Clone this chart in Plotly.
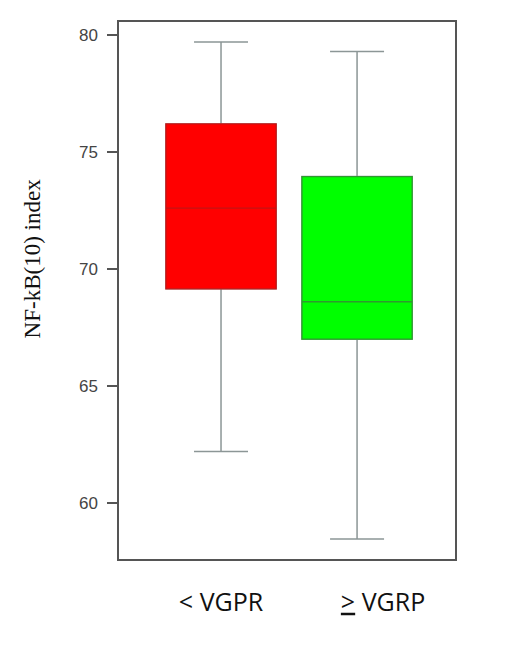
import plotly.graph_objects as go

# group labels and box statistics
groups = ["< VGPR", ">= VGRP"]
fills = ["#ff0000", "#00ff00"]
edges = ["#c41414", "#2f9a2f"]
q1 = [69.15, 67.0]
median = [72.6, 68.6]
q3 = [76.2, 73.95]
lower = [62.2, 58.45]
upper = [79.7, 79.3]

tick_vals = [60, 65, 70, 75, 80]
x_labels = ["< VGPR", "&nbsp;&nbsp;&nbsp;&nbsp;&nbsp;&nbsp;&nbsp;&nbsp;<u>></u> VGRP"]
y_title = "&nbsp;" * 11 + "NF-kB(10) index"

fig = go.Figure()

for i in range(len(groups)):
    # whiskers (gray) with the full fences
    fig.add_trace(
        go.Box(
            x=[i],
            q1=[q1[i]],
            median=[median[i]],
            q3=[q3[i]],
            lowerfence=[lower[i]],
            upperfence=[upper[i]],
            width=0.81,
            whiskerwidth=0.49,
            fillcolor=fills[i],
            line={"color": "#8c9696", "width": 1.5},
            hoverinfo="skip",
            showlegend=False,
        )
    )
    # coloured box outline + median on top
    fig.add_trace(
        go.Box(
            x=[i],
            q1=[q1[i]],
            median=[median[i]],
            q3=[q3[i]],
            lowerfence=[q1[i]],
            upperfence=[q3[i]],
            width=0.81,
            whiskerwidth=0,
            fillcolor=fills[i],
            line={"color": edges[i], "width": 1.3},
            showlegend=False,
        )
    )

# page body adds an 8px offset, margins compensate for it
fig.update_layout(
    width=520,
    height=659,
    margin={"l": 111, "r": 73, "t": 14, "b": 108},
    paper_bgcolor="white",
    plot_bgcolor="white",
    boxmode="overlay",
    font={"family": "Liberation Sans, Arial, sans-serif", "color": "#444"},
)

fig.update_xaxes(
    range=[-0.75, 1.72],
    tickvals=[0, 1],
    ticktext=x_labels,
    ticks="",
    ticklabelstandoff=20,
    tickfont={"size": 25, "color": "#111", "family": "Open Sans, Liberation Sans, sans-serif"},
    showgrid=False,
    zeroline=False,
    showline=True,
    linecolor="#555",
    linewidth=1.5,
    mirror=True,
)

fig.update_yaxes(
    range=[57.6, 80.56],
    tickvals=tick_vals,
    ticks="outside",
    ticklen=10,
    tickcolor="#555",
    tickwidth=1.5,
    ticklabelstandoff=6,
    tickfont={"size": 17, "color": "#444"},
    title={
        "text": y_title,
        "font": {"family": "Liberation Serif, Times New Roman, serif", "size": 23, "color": "#111"},
        "standoff": 32,
    },
    showgrid=False,
    zeroline=False,
    showline=True,
    linecolor="#555",
    linewidth=1.5,
    mirror=True,
)

fig.write_html("out.html")
